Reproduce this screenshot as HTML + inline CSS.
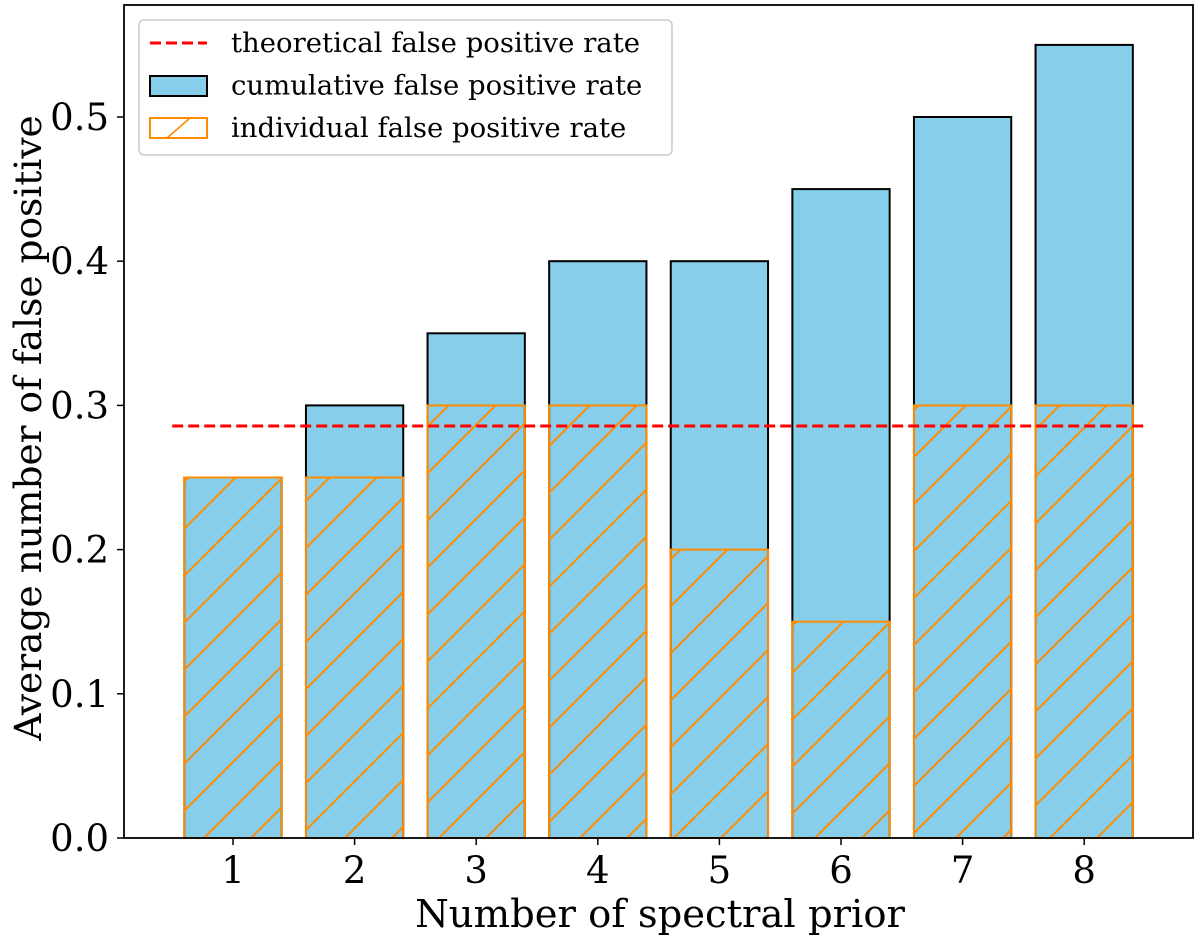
<!DOCTYPE html>
<html><head><meta charset="utf-8"><style>
body{margin:0;background:#fff}
svg{display:block;font-family:"DejaVu Serif","Liberation Serif",serif}
</style></head><body>
<svg id="chart" width="1200" height="940" xmlns="http://www.w3.org/2000/svg">
<defs>
<pattern id="hatch" patternUnits="userSpaceOnUse" width="47" height="47" patternTransform="translate(8,0)">
<line x1="-2" y1="49" x2="49" y2="-2" stroke="#ff8c00" stroke-width="2"/>
<line x1="-49" y1="49" x2="2" y2="-2" stroke="#ff8c00" stroke-width="2"/>
<line x1="45" y1="49" x2="96" y2="-2" stroke="#ff8c00" stroke-width="2"/>
</pattern>
</defs>
<g id="bars"></g>
<g id="axes"></g>
</svg>
<script>
const categories=[1,2,3,4,5,6,7,8];
const cumulative=[0.25,0.30,0.35,0.40,0.40,0.45,0.50,0.55];
const individual=[0.25,0.25,0.30,0.30,0.20,0.15,0.30,0.30];
const theoretical=[0.2857];
const yTicks=[0.0,0.1,0.2,0.3,0.4,0.5];
const ns="http://www.w3.org/2000/svg";
const L=124,R=1193,T=5,B=838;
const xS=v=>233+(v-1)*121.6;
const yS=v=>B-v*1442;
const bw=0.8*121.6;
function mk(t,a,p){const e=document.createElementNS(ns,t);for(const k in a)e.setAttribute(k,a[k]);p.appendChild(e);return e;}
const gb=document.getElementById('bars'),ga=document.getElementById('axes');
categories.forEach((c,i)=>{
 const r=mk('rect',{x:xS(c)-bw/2,y:yS(cumulative[i]),width:bw,height:B-yS(cumulative[i]),fill:'#87ceeb',stroke:'#000','stroke-width':2},gb);
 
 
});
categories.forEach((c,i)=>{
 const r=mk('rect',{x:xS(c)-bw/2,y:yS(individual[i]),width:bw,height:B-yS(individual[i]),fill:'url(#hatch)',stroke:'#ff8c00','stroke-width':2},gb);
 
 
});
const tl=mk('line',{x1:xS(0.5),x2:xS(8.5),y1:yS(theoretical[0]),y2:yS(theoretical[0]),stroke:'#ff0000','stroke-width':3,'stroke-dasharray':'11,5'},gb);


const fr=mk('rect',{x:L,y:T,width:R-L,height:B-T,fill:'none',stroke:'#000','stroke-width':1.8},ga);


categories.forEach(c=>{
 mk('line',{x1:xS(c),x2:xS(c),y1:B,y2:B+7,stroke:'#000','stroke-width':1.5},ga);
 const t=mk('text',{x:xS(c),y:B+45,'text-anchor':'middle','font-size':37},ga);
 t.textContent=c;
 
 
});
yTicks.forEach(v=>{
 mk('line',{x1:L-7,x2:L,y1:yS(v),y2:yS(v),stroke:'#000','stroke-width':1.5},ga);
 const t=mk('text',{x:L-15,y:yS(v)+13,'text-anchor':'end','font-size':37},ga);
 t.textContent=v.toFixed(1);
 
 
});
const xl=mk('text',{x:660,y:927,'text-anchor':'middle','font-size':38.5},ga);
xl.textContent='Number of spectral prior';


const yl=mk('text',{x:0,y:0,'text-anchor':'middle','font-size':37.5,transform:'translate(41,428) rotate(-90)'},ga);
yl.textContent='Average number of false positive';


const lg=mk('g',{},ga);


mk('rect',{x:139,y:20,width:533,height:135,rx:5,fill:'#fff',stroke:'#ccc','stroke-width':1.5},lg);
mk('line',{x1:150,x2:207,y1:43,y2:43,stroke:'#f00','stroke-width':3,'stroke-dasharray':'11,5'},lg);
mk('rect',{x:150,y:76,width:57,height:20,fill:'#87ceeb',stroke:'#000','stroke-width':2},lg);
mk('rect',{x:150,y:118,width:57,height:20,fill:'none',stroke:'#ff8c00','stroke-width':2},lg);
mk('line',{x1:167,x2:190,y1:138,y2:118,stroke:'#ff8c00','stroke-width':1.6},lg);
['theoretical false positive rate','cumulative false positive rate','individual false positive rate'].forEach((s,i)=>{
 const t=mk('text',{x:231,y:52+i*42.5,'font-size':27.5},lg);
 t.textContent=s;
 
 
});
</script>
</body></html>
